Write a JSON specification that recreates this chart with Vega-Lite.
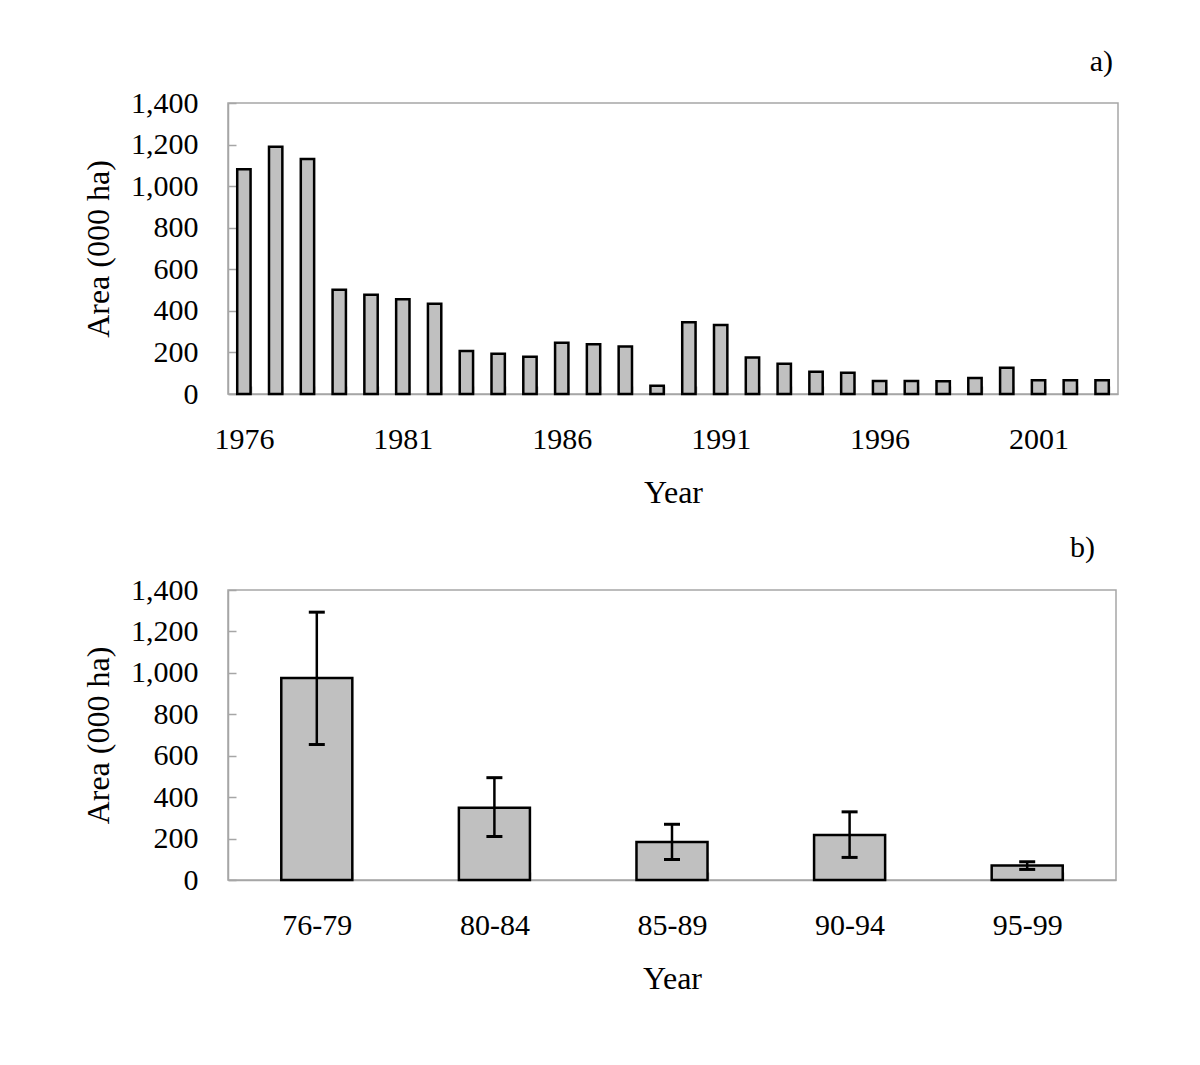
{
  "$schema": "https://vega.github.io/schema/vega-lite/v6.json",
  "background": "white",
  "padding": {"left": 81, "top": 46, "right": 10, "bottom": 10},
  "config": {
    "font": "Liberation Serif",
    "view": {"stroke": "#a6a6a6", "strokeWidth": 1.5},
    "axis": {
      "labelFont": "Liberation Serif", "titleFont": "Liberation Serif",
      "labelFontSize": 30, "titleFontSize": 32, "titleFontWeight": "normal",
      "labelColor": "black", "titleColor": "black",
      "domainColor": "#a6a6a6", "tickColor": "#a6a6a6", "grid": false,
      "domainWidth": 1.5, "tickWidth": 1.5
    },
    "title": {"font": "Liberation Serif", "fontSize": 30, "fontWeight": "normal", "anchor": "end", "color": "black"},
    "concat": {"spacing": 23}
  },
  "vconcat": [
    {
      "width": 890, "height": 291,
      "title": {"text": "a)", "dx": -5, "offset": 11},
      "data": {"values": [
        {"year": 1976, "area": 1081}, {"year": 1977, "area": 1190}, {"year": 1978, "area": 1131},
        {"year": 1979, "area": 501}, {"year": 1980, "area": 477}, {"year": 1981, "area": 456},
        {"year": 1982, "area": 434}, {"year": 1983, "area": 207}, {"year": 1984, "area": 194},
        {"year": 1985, "area": 179}, {"year": 1986, "area": 247}, {"year": 1987, "area": 239},
        {"year": 1988, "area": 229}, {"year": 1989, "area": 40}, {"year": 1990, "area": 345},
        {"year": 1991, "area": 332}, {"year": 1992, "area": 176}, {"year": 1993, "area": 146},
        {"year": 1994, "area": 107}, {"year": 1995, "area": 102}, {"year": 1996, "area": 62},
        {"year": 1997, "area": 62}, {"year": 1998, "area": 61}, {"year": 1999, "area": 77},
        {"year": 2000, "area": 126}, {"year": 2001, "area": 66}, {"year": 2002, "area": 66},
        {"year": 2003, "area": 66}
      ]},
      "mark": {"type": "bar", "fill": "#c0c0c0", "stroke": "black", "strokeWidth": 2.5},
      "encoding": {
        "x": {
          "field": "year", "type": "ordinal", "title": "Year",
          "scale": {"paddingInner": 0.58, "paddingOuter": 0.29},
          "axis": {"labelAngle": 0, "tickBand": "extent", "tickSize": -8, "labelPadding": 38, "titlePadding": 23,
                   "labelExpr": "(datum.value - 1976) % 5 == 0 ? datum.label : ''"}
        },
        "y": {
          "field": "area", "type": "quantitative", "title": "Area (000 ha)",
          "scale": {"domain": [0, 1400]},
          "axis": {"values": [0, 200, 400, 600, 800, 1000, 1200, 1400], "format": ",.0f", "tickSize": -8, "labelPadding": 38, "titlePadding": 15}
        }
      }
    },
    {
      "width": 888, "height": 290,
      "title": {"text": "b)", "dx": -21, "offset": 12},
      "data": {"values": [
        {"period": "76-79", "mean": 975, "lo": 654, "hi": 1293},
        {"period": "80-84", "mean": 349, "lo": 210, "hi": 494},
        {"period": "85-89", "mean": 183, "lo": 99, "hi": 269},
        {"period": "90-94", "mean": 217, "lo": 109, "hi": 329},
        {"period": "95-99", "mean": 70, "lo": 51, "hi": 88}
      ]},
      "encoding": {
        "x": {
          "field": "period", "type": "nominal", "title": "Year",
          "scale": {"paddingInner": 0.6, "paddingOuter": 0.3},
          "axis": {"labelAngle": 0, "tickBand": "extent", "tickSize": -8, "labelPadding": 38, "titlePadding": 23}
        }
      },
      "layer": [
        {
          "mark": {"type": "bar", "fill": "#c0c0c0", "stroke": "black", "strokeWidth": 2.5},
          "encoding": {
            "y": {
              "field": "mean", "type": "quantitative", "title": "Area (000 ha)",
              "scale": {"domain": [0, 1400]},
              "axis": {"values": [0, 200, 400, 600, 800, 1000, 1200, 1400], "format": ",.0f", "tickSize": -8, "labelPadding": 38, "titlePadding": 15}
            }
          }
        },
        {
          "mark": {"type": "rule", "color": "black", "strokeWidth": 2.5},
          "encoding": {"y": {"field": "lo", "type": "quantitative"}, "y2": {"field": "hi"}}
        },
        {
          "mark": {"type": "tick", "orient": "horizontal", "color": "black", "size": 16, "thickness": 3, "opacity": 1},
          "encoding": {"y": {"field": "lo", "type": "quantitative"}}
        },
        {
          "mark": {"type": "tick", "orient": "horizontal", "color": "black", "size": 16, "thickness": 3, "opacity": 1},
          "encoding": {"y": {"field": "hi", "type": "quantitative"}}
        }
      ]
    }
  ]
}
